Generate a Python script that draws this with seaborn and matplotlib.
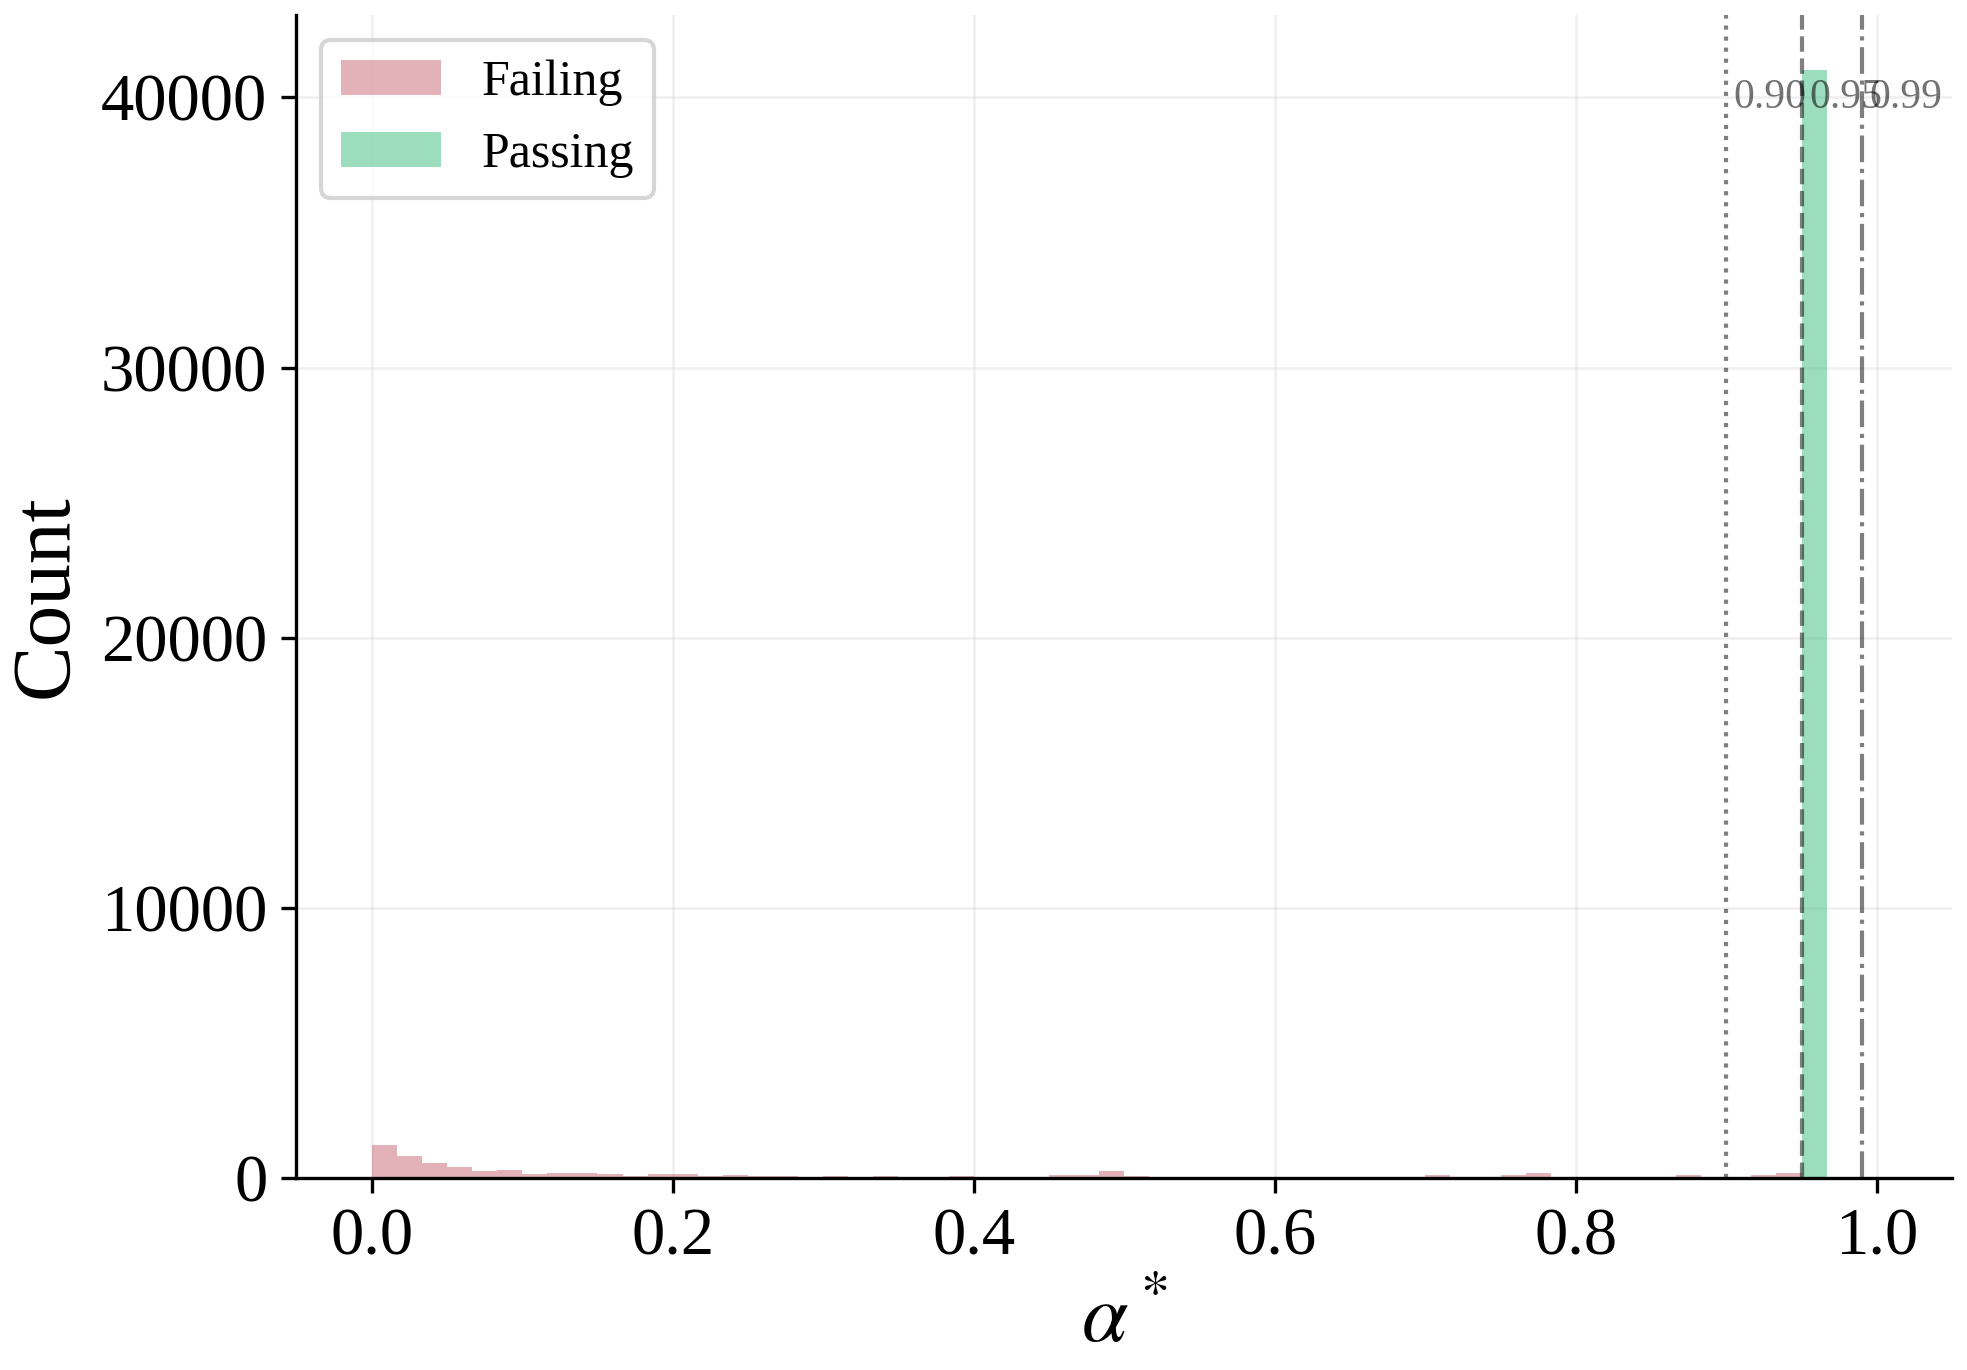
import numpy as np
import pandas as pd
import matplotlib
matplotlib.use('Agg')
import matplotlib.pyplot as plt
import seaborn as sns

# histogram counts, 60 equal bins over [0, 1]
n_bins = 60
failing_counts = [1206, 800, 541, 394, 246, 283, 135, 172, 172, 135,
                  62, 135, 135, 62, 98, 62, 62, 25, 62, 25,
                  62, 12, 25, 62, 10, 25, 25, 98, 98, 246,
                  62, 25, 5, 5, 25, 5, 25, 25, 5, 25,
                  5, 5, 98, 5, 49, 98, 172, 25, 5, 25,
                  25, 5, 98, 25, 25, 98, 172, 0, 0, 0]
passing_counts = [0] * 57 + [41000, 0, 0]
thresholds = [0.90, 0.95, 0.99]
threshold_styles = [':', '--', '-.']

centers = (np.arange(n_bins) + 0.5) / n_bins
fail_df = pd.DataFrame({'alpha': centers, 'n': failing_counts})
pass_df = pd.DataFrame({'alpha': centers, 'n': passing_counts})

sns.set_style('ticks')
plt.rcParams['font.family'] = 'serif'
plt.rcParams['font.serif'] = ['Liberation Serif', 'DejaVu Serif']
plt.rcParams['mathtext.fontset'] = 'stix'
for key in ['text.color', 'axes.labelcolor', 'xtick.color', 'ytick.color', 'axes.edgecolor']:
    plt.rcParams[key] = 'black'

fig = plt.figure(figsize=(1967 / 300, 1370 / 300), dpi=300)
ax = fig.add_axes([0.1507, 0.1401, 0.8417, 0.849])

sns.histplot(data=fail_df, x='alpha', weights='n', binwidth=1 / n_bins, binrange=(0, 1),
             color='#c96573', alpha=0.5, linewidth=0, label='Failing', ax=ax)
sns.histplot(data=pass_df, x='alpha', weights='n', binwidth=1 / n_bins, binrange=(0, 1),
             color='#3bbd7d', alpha=0.5, linewidth=0, label='Passing', ax=ax)

for t, ls in zip(thresholds, threshold_styles):
    ax.axvline(t, color='k', linestyle=ls, linewidth=1.0, alpha=0.5)
    ax.text(t + 0.005, 40000, f'{t:.2f}', fontsize=10, color='k', alpha=0.55,
            ha='left', va='center')

ax.grid(True, alpha=0.3, linewidth=0.6)
ax.set_axisbelow(True)
ax.set_xlabel(r'$\alpha^*$', fontsize=20)
ax.set_ylabel('Count', fontsize=20)
ax.tick_params(labelsize=16)
ax.legend(loc='upper left', fontsize=12)
sns.despine(ax=ax)

fig.savefig('out.png', dpi=300)
